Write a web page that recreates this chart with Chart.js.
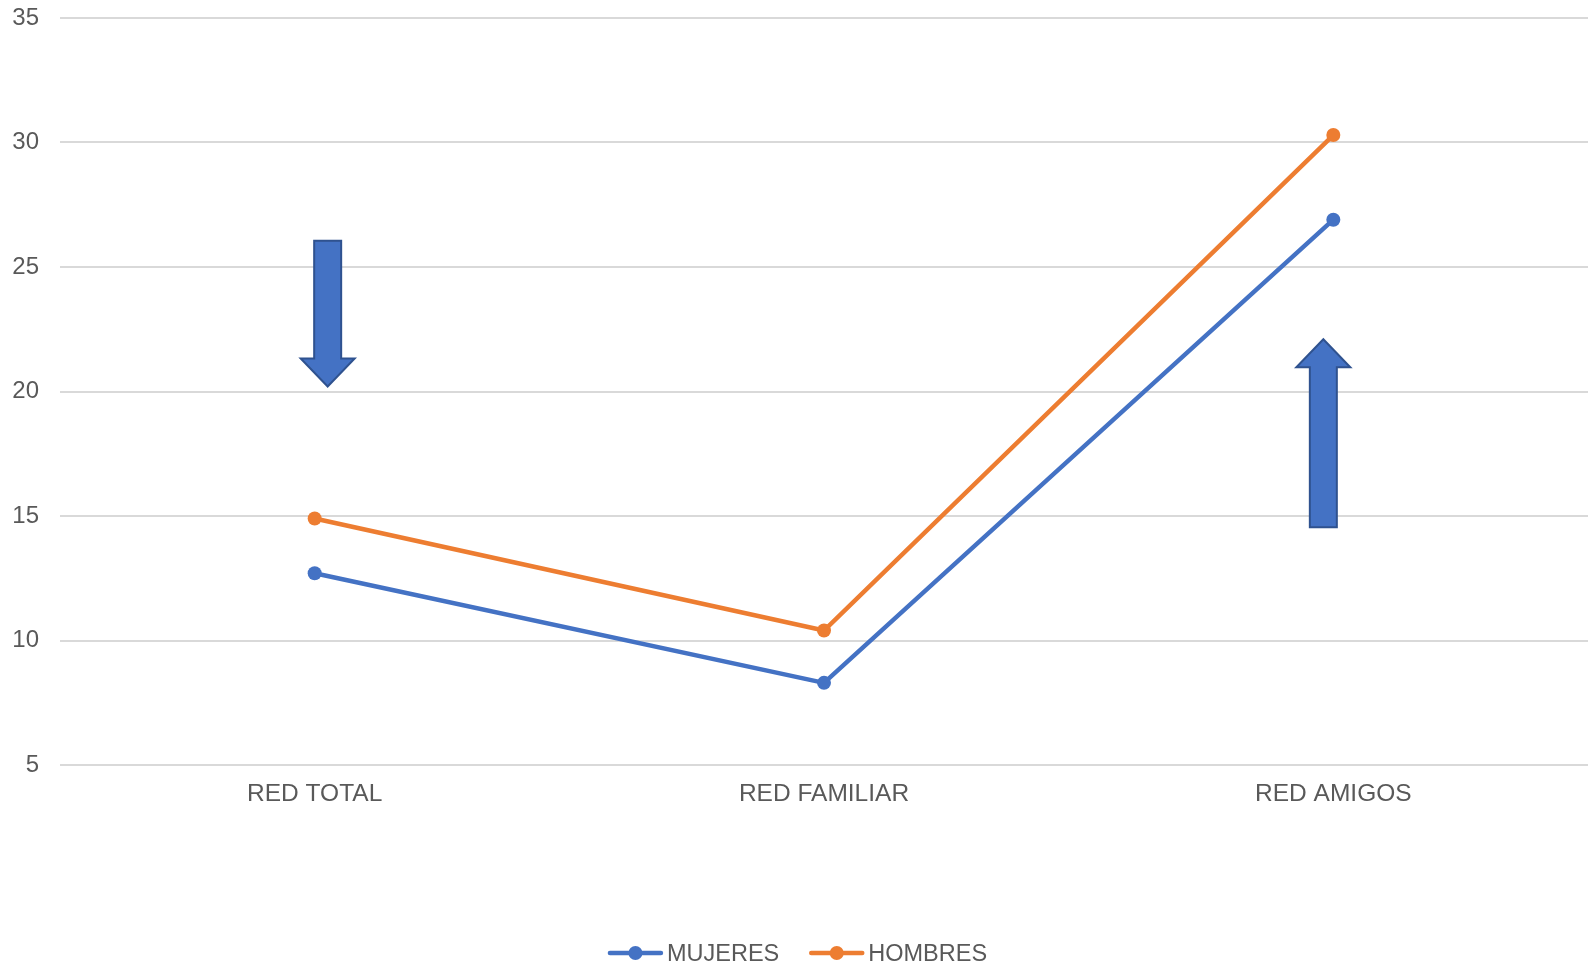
<!DOCTYPE html>
<html>
<head>
  <meta charset="utf-8" />
  <title>Red social por sexo</title>
  <script src="https://cdn.jsdelivr.net/npm/chart.js"></script>
  <style>
    html, body { margin: 0; padding: 0; background: #ffffff; }
    #wrap { width: 1595px; height: 966px; }
  </style>
</head>
<body>
  <div id="wrap"><canvas id="chart" width="1595" height="966"></canvas></div>
  <script>
    // data
    const categories = ['RED TOTAL', 'RED FAMILIAR', 'RED AMIGOS'];
    const mujeres = [12.7, 8.3, 26.9];
    const hombres = [14.9, 10.4, 30.3];
    const yTicks = [5, 10, 15, 20, 25, 30, 35];

    // block arrows: category index, start value, end value
    const arrowCat = [0, 2];
    const arrowFrom = [26.05, 14.55];
    const arrowTo = [20.2, 22.1];

    const FONT = '"Liberation Sans", Arial, sans-serif';
    const TEXT = '#595959';

    // draws the two block arrows, placed through the scales
    const arrowPlugin = {
      id: 'arrows',
      afterDatasetsDraw(chart, args, opts) {
        const { ctx, scales: { x, y } } = chart;
        ctx.save();
        arrowCat.forEach((c, i) => {
          const cx = x.getPixelForValue(c) + opts.offsets[i];
          const y0 = y.getPixelForValue(arrowFrom[i]);
          const y1 = y.getPixelForValue(arrowTo[i]);
          const dir = y1 > y0 ? 1 : -1;
          const sw = opts.shaft / 2, hw = opts.head / 2;
          const hb = y1 - dir * opts.headLen;
          ctx.beginPath();
          ctx.moveTo(cx - sw, y0);
          ctx.lineTo(cx + sw, y0);
          ctx.lineTo(cx + sw, hb);
          ctx.lineTo(cx + hw, hb);
          ctx.lineTo(cx, y1);
          ctx.lineTo(cx - hw, hb);
          ctx.lineTo(cx - sw, hb);
          ctx.closePath();
          ctx.fillStyle = '#4472C4';
          ctx.fill();
          ctx.lineWidth = 2;
          ctx.strokeStyle = '#2F528F';
          ctx.stroke();
        });
        ctx.restore();
      }
    };

    // legend with line + dot markers, centred at the bottom
    const legendPlugin = {
      id: 'lineLegend',
      afterDraw(chart) {
        const { ctx } = chart;
        const sets = chart.data.datasets;
        const lineW = 55, gapText = 4, gapItem = 30, cy = 953;
        ctx.save();
        ctx.font = '23.5px ' + FONT;
        const widths = sets.map(d => ctx.measureText(d.label).width);
        let total = 0;
        widths.forEach((w, i) => { total += lineW + gapText + w + (i ? gapItem : 0); });
        let xPos = (chart.width - total) / 2;
        sets.forEach((d, i) => {
          ctx.strokeStyle = d.borderColor;
          ctx.lineWidth = 4.5;
          ctx.lineCap = 'round';
          ctx.beginPath();
          ctx.moveTo(xPos + 2, cy);
          ctx.lineTo(xPos + lineW - 2, cy);
          ctx.stroke();
          ctx.fillStyle = d.borderColor;
          ctx.beginPath();
          ctx.arc(xPos + lineW / 2, cy, 7, 0, Math.PI * 2);
          ctx.fill();
          ctx.fillStyle = TEXT;
          ctx.textBaseline = 'alphabetic';
          ctx.textAlign = 'left';
          ctx.fillText(d.label, xPos + lineW + gapText, 961);
          xPos += lineW + gapText + widths[i] + gapItem;
        });
        ctx.restore();
      }
    };

    new Chart(document.getElementById('chart'), {
      type: 'line',
      data: {
        labels: categories,
        datasets: [
          {
            label: 'MUJERES', data: mujeres,
            borderColor: '#4472C4', backgroundColor: '#4472C4',
            borderWidth: 4.5, pointRadius: 7, pointBorderWidth: 0, tension: 0
          },
          {
            label: 'HOMBRES', data: hombres,
            borderColor: '#ED7D31', backgroundColor: '#ED7D31',
            borderWidth: 4.5, pointRadius: 7, pointBorderWidth: 0, tension: 0
          }
        ]
      },
      options: {
        responsive: false,
        animation: false,
        layout: { padding: { top: 18, right: 6, left: 0, bottom: 141 } },
        plugins: {
          legend: { display: false },
          tooltip: { enabled: false },
          arrows: { offsets: [13, -10], shaft: 27, head: 54, headLen: 28 }
        },
        scales: {
          x: {
            offset: true,
            grid: { display: false },
            border: { display: false },
            ticks: { color: TEXT, font: { family: FONT, size: 24.5 }, padding: 7 },
            afterFit: s => { s.height = 60; }
          },
          y: {
            min: yTicks[0], max: yTicks[yTicks.length - 1],
            afterBuildTicks: s => { s.ticks = yTicks.map(v => ({ value: v })); },
            grid: { color: '#D9D9D9', lineWidth: 2, drawTicks: false },
            border: { display: false },
            ticks: { color: TEXT, font: { family: FONT, size: 24 }, padding: 21 },
            afterFit: s => { s.width = 60; s.paddingTop = 0; s.paddingBottom = 0; }
          }
        }
      },
      plugins: [arrowPlugin, legendPlugin]
    });
  </script>
</body>
</html>
